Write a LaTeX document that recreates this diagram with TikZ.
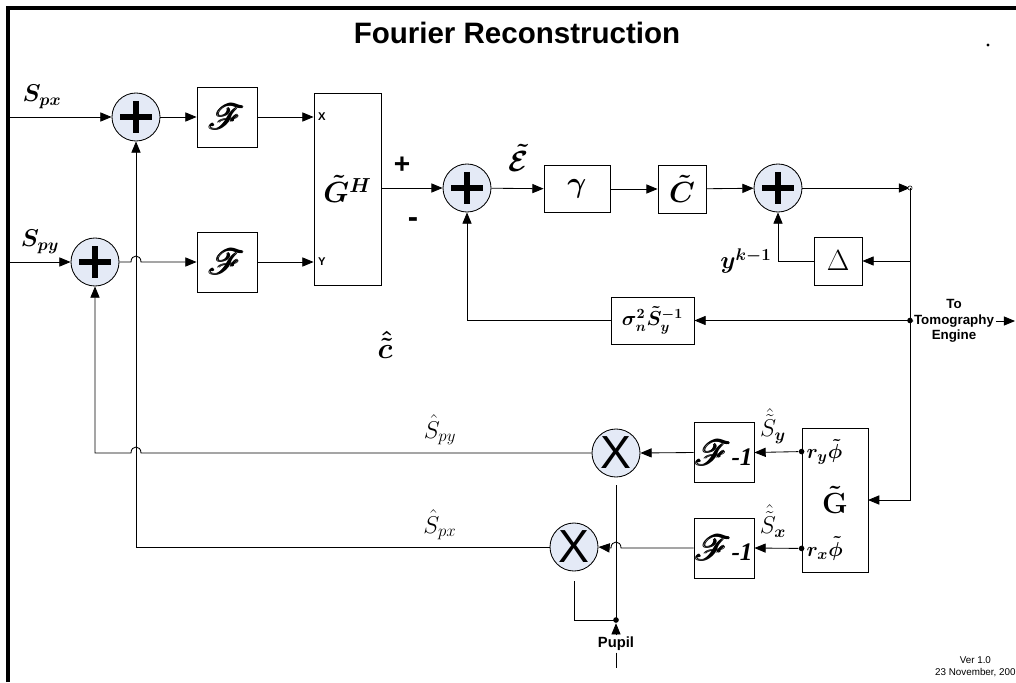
\documentclass[tikz,border=0pt]{standalone}
\usepackage{fontspec}
\setmainfont{Liberation Serif}
\setsansfont{Liberation Sans}
\usepackage{amsmath,amssymb,bm}
\usepackage{mathrsfs}
\usetikzlibrary{arrows.meta,positioning,calc}
\definecolor{sumfill}{RGB}{228,234,246}

\begin{document}
\begin{tikzpicture}[x=0.025cm,y=-0.025cm,line width=0.6pt,
        >={Triangle[length=8pt,width=6.5pt]},
        blk/.style={draw,minimum width=1.5cm,minimum height=1.5cm,inner sep=0pt},
        sumnode/.style={circle,draw,fill=sumfill,minimum size=1.2cm,inner sep=0pt,
            path picture={\draw[line width=3.6pt]
                ($(path picture bounding box.center)+(-16,0)$) -- ++(32,0)
                ($(path picture bounding box.center)+(0,-16)$) -- ++(0,32);}},
        mulnode/.style={circle,draw,fill=sumfill,minimum size=1.2cm,inner sep=0pt,
            font=\sffamily\fontsize{33}{33}\selectfont},
        lbl/.style={font=\fontsize{18}{20}\selectfont\boldmath},
        fbox/.style={blk,font=\fontsize{24}{24}\selectfont\boldmath},
        sans/.style={font=\sffamily\bfseries\fontsize{9.5}{11}\selectfont,inner sep=1pt},
        jdot/.style={circle,fill,inner sep=0pt,minimum size=4pt}]
        \useasboundingbox (0,0) rectangle (1016,682);
        \draw[line width=2.2pt] (8,682) -- (8,8) -- (1016,8);
        \node[font=\sffamily\bfseries\fontsize{21}{24}\selectfont] (title) at (517,33) {Fourier Reconstruction};
        \fill (988,45) circle[radius=1.2pt];

        % inputs and forward transforms
        \node[sumnode] (sumpx) at (136,117) {};
        \node[sumnode] (sumpy) at (95,262) {};
        \node[fbox] (fx) at (227,117) {$\pmb{\mathscr{F}}$};
        \node[fbox] (fy) at (227,262) {$\pmb{\mathscr{F}}$};
        \node[draw,minimum width=1.675cm,minimum height=4.8cm,inner sep=0pt,
            font=\fontsize{22}{24}\selectfont\boldmath] (gh) at (347.5,189) {$\tilde{G}^{H}$};
        \coordinate (inpx) at (8,117);
        \coordinate (inpy) at (8,262);
        \node[lbl] (spx) at (42,97) {$S_{px}$};
        \node[lbl] (spy) at (40,242) {$S_{py}$};
        \draw[->] (inpx) -- (sumpx);
        \draw[->] (inpy) -- (sumpy);
        \draw[->] (sumpx) -- (fx);
        \draw[->] (sumpy.east) -- ($(sumpx |- sumpy)+(-5,0)$)
            .. controls ($(sumpx |- sumpy)+(-5,-8)$) and ($(sumpx |- sumpy)+(5,-8)$) .. ($(sumpx |- sumpy)+(5,0)$)
            -- (fy.west);
        \draw[->] (fx.east) -- (gh.west |- fx);
        \draw[->] (fy.east) -- (gh.west |- fy);
        \node[sans,font=\sffamily\bfseries\fontsize{8}{9}\selectfont,right=2pt] (xin) at (gh.west |- fx) {X};
        \node[sans,font=\sffamily\bfseries\fontsize{8}{9}\selectfont,right=2pt] (yin) at (gh.west |- fy) {Y};

        % error loop
        \node[sumnode] (sume) at (467,188) {};
        \node[blk,lbl,minimum width=1.65cm,minimum height=1.175cm,font=\fontsize{20}{22}\selectfont\boldmath] (gam) at (577,189) {$\gamma$};
        \node[blk,minimum width=1.2cm,minimum height=1.2cm,font=\fontsize{21}{22}\selectfont\boldmath] (ct) at (682,189) {$\tilde{C}$};
        \node[sumnode] (sumy) at (778,188) {};
        \node[blk,minimum width=1.2cm,minimum height=1.2cm,font=\fontsize{21}{22}\selectfont] (dly) at (838,261) {$\Delta$};
        \node[blk,minimum width=2.075cm,minimum height=1.175cm,font=\fontsize{14}{16}\selectfont\boldmath] (sig) at (652.5,320.5) {$\sigma_n^2\tilde{S}_y^{-1}$};
        \coordinate (jn) at (910,188);
        \coordinate (tout) at (1015,321);
        \node[sans,align=center] (tomo) at (954,321) {To\\Tomography\\Engine};
        \draw[->] (gh.east |- sume) -- (sume);
        \draw[->] (sume) -- (gam);
        \draw[->] (gam) -- (ct);
        \draw[->] (ct) -- (sumy);
        \draw[->] (sumy) -- (jn);
        \draw[fill=white,line width=0.4pt] (jn) circle[radius=1.5pt];
        \draw[->] (jn) -- (jn |- dly) -- (jn |- sig) -- (jn |- 0,500) -- (868,500);
        \draw[->] (jn |- dly) -- (dly.east);
        \draw[->] (dly.west) -- (sumy |- dly) -- (sumy.south);
        \draw[->] (jn |- sig) -- (sig.east);
        \draw[->] (sig.west) -- (sume |- sig) -- (sume.south);
        \node[jdot] (tj) at (jn |- sig) {};
        \draw (tj) -- (tomo.west);
        \draw[->] (tomo.east) -- (tout);
        \node[font=\sffamily\bfseries\fontsize{20}{20}\selectfont] (plab) at (402,165) {+};
        \node[font=\sffamily\bfseries\fontsize{22}{22}\selectfont] (mlab) at (413,223) {-};
        \node[lbl,font=\fontsize{20}{22}\selectfont\boldmath] (eps) at (519,158) {$\tilde{\mathcal{E}}$};
        \node[lbl,left=1pt] (ykm) at (sumy |- dly) {$y^{k-1}$};
        \node[lbl,font=\fontsize{22}{22}\selectfont\boldmath] (chat) at (385,345) {$\hat{\tilde{c}}$};

        % inverse path back to the inputs
        \node[draw,minimum width=1.65cm,minimum height=3.6cm,inner sep=0pt,
            font=\fontsize{21}{22}\selectfont\boldmath] (gt) at (835,500) {$\tilde{\mathbf{G}}$};
        \node[fbox] (fiy) at (724,452.5) {$\pmb{\mathscr{F}}$\fontsize{18}{20}\selectfont\textbf{\textit{-1}}};
        \node[fbox] (fix) at (724,548) {$\pmb{\mathscr{F}}$\fontsize{18}{20}\selectfont\textbf{\textit{-1}}};
        \node[mulnode] (muly) at (616,453) {X};
        \node[mulnode] (mulx) at (574,547) {X};
        \node[jdot] (ry) at ($(gt.north west)+(0,24)$) {};
        \node[jdot] (rx) at ($(gt.south west)+(0,-24)$) {};
        \node[font=\fontsize{15}{16}\selectfont\boldmath,right=0pt] (ryl) at (ry) {$r_y\tilde{\phi}$};
        \node[font=\fontsize{15}{16}\selectfont\boldmath,right=0pt] (rxl) at (rx) {$r_x\tilde{\phi}$};
        \draw[->] (ry) -- (fiy.east);
        \draw[->] (rx) -- (fix.east);
        \node[font=\fontsize{17}{18}\selectfont] (ssy) at (773,426) {$\hat{\tilde{S}}_{\bm{y}}$};
        \node[font=\fontsize{17}{18}\selectfont] (ssx) at (773,521) {$\hat{\tilde{S}}_{\bm{x}}$};
        \draw[->] (fiy.west) -- (muly.east);
        \draw[->] (fix.west) -- ($(muly |- fix)+(5,0)$)
            .. controls ($(muly |- fix)+(5,-8)$) and ($(muly |- fix)+(-5,-8)$) .. ($(muly |- fix)+(-5,0)$)
            -- (mulx.east);
        \draw[->] (muly.west) -- ($(sumpx |- muly)+(5,0)$)
            .. controls ($(sumpx |- muly)+(5,-8)$) and ($(sumpx |- muly)+(-5,-8)$) .. ($(sumpx |- muly)+(-5,0)$)
            -- (sumpy |- muly) -- (sumpy.south);
        \draw[->] (mulx.west) -- (sumpx |- mulx) -- (sumpx.south);
        \node[font=\fontsize{17}{18}\selectfont] (shpy) at (440,430) {$\hat{S}_{py}$};
        \node[font=\fontsize{17}{18}\selectfont] (shpx) at (440,525) {$\hat{S}_{px}$};

        % pupil
        \coordinate (pj) at (616,620);
        \coordinate (pend) at (616,668);
        \node[sans,font=\sffamily\bfseries\fontsize{10.5}{12}\selectfont] (pup) at (616,644) {Pupil};
        \draw[shorten <=0.2cm] (muly.south) -- (pj);
        \draw[shorten <=0.25cm] (mulx.south) -- (mulx |- pj) -- (pj);
        \node[jdot] (pdot) at (pj) {};
        \draw[->] (pup.north) -- (pdot.south);
        \draw (pup.south) -- (pend);

        \node[font=\sffamily\fontsize{7}{8.5}\selectfont,align=center,anchor=east,inner sep=0pt] (ver) at (1016,667) {Ver 1.0\\23 November, 200};
\end{tikzpicture}
\end{document}
